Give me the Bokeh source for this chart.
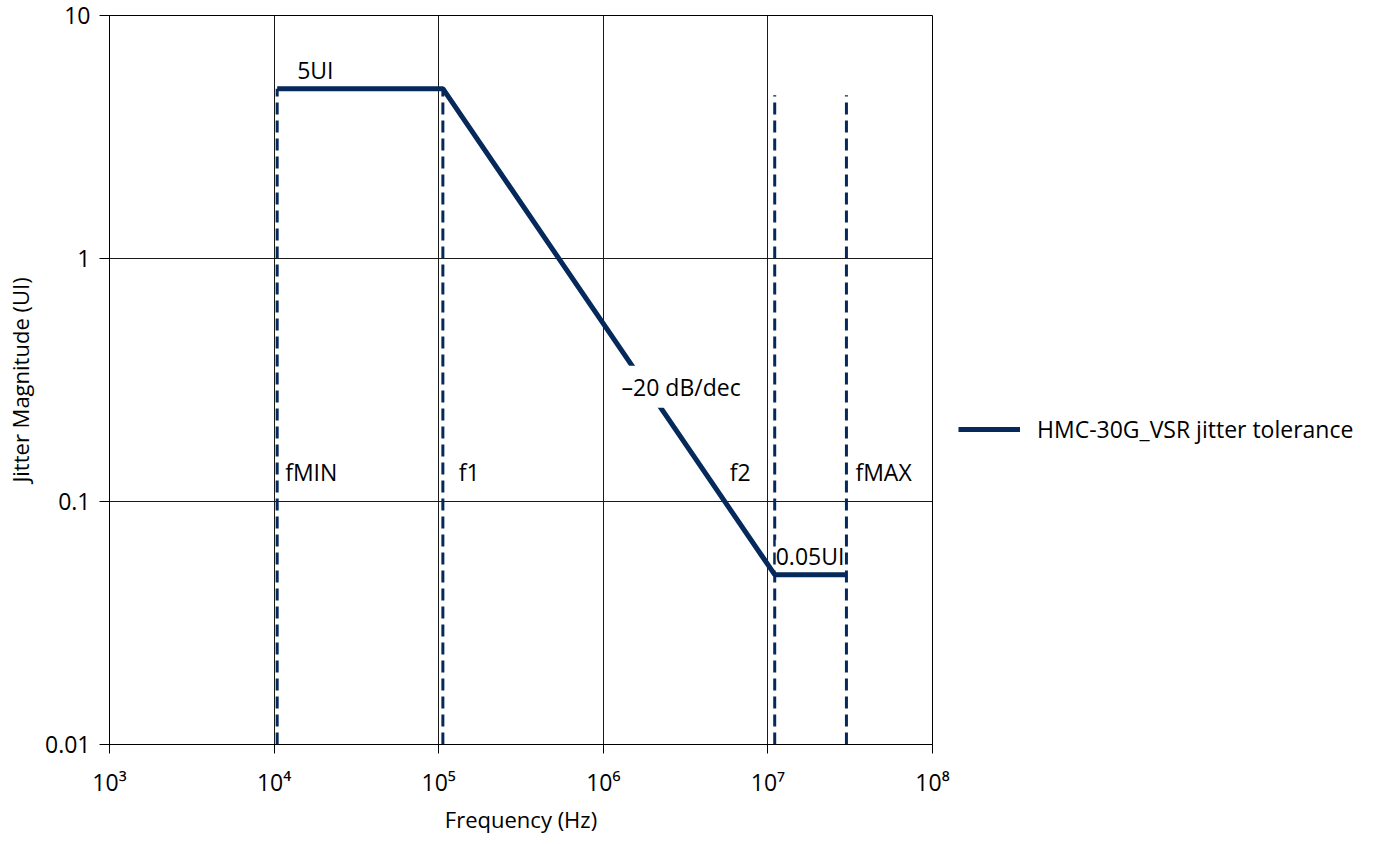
from bokeh.plotting import figure
from bokeh.layouts import row
from bokeh.models import (Label, Legend, LegendItem, FixedTicker,
                          CustomJSTickFormatter, Range1d)
from bokeh.embed import file_html
from bokeh.resources import INLINE

# ---------------- data ----------------
freq = [1.044e4, 1.06e5, 1.1e7, 3.0e7]
jitter = [5.0, 5.0, 0.05, 0.05]
marker_freq = [1.044e4, 1.06e5, 1.1e7, 3.0e7]
marker_top = [5.0, 5.0, 4.7, 4.7]
marker_names = ["fMIN", "f1", "f2", "fMAX"]
x_ticks = [1e3, 1e4, 1e5, 1e6, 1e7, 1e8]
x_tick_exp = ["3", "4", "5", "6", "7", "8"]
y_ticks = [0.01, 0.1, 1, 10]
y_tick_labels = ["0.01", "0.1", "1", "10"]
series_name = "HMC-30G_VSR jitter tolerance"
level_labels = ["5UI", "0.05UI"]
slope_label = "\u201320 dB/dec"
slope_label_pos = (2.97e6, 0.28)

NAVY = "#05295a"
FONT = "Open Sans"
FS = "23px"
H = 836
SUP = {"0": "\u2070", "1": "\u00b9", "2": "\u00b2", "3": "\u00b3", "4": "\u2074",
       "5": "\u2075", "6": "\u2076", "7": "\u2077", "8": "\u2078", "9": "\u2079"}

p = figure(width=952, height=H, x_axis_type="log", y_axis_type="log",
           x_range=Range1d(x_ticks[0], x_ticks[-1]),
           y_range=Range1d(y_ticks[0], y_ticks[-1]),
           output_backend="svg", toolbar_location=None,
           min_border_left=109, min_border_right=20,
           min_border_top=15, min_border_bottom=91)
p.outline_line_color = "black"
p.background_fill_color = "white"

for ax in (p.xaxis[0], p.yaxis[0]):
    ax.axis_line_color = "black"
    ax.major_tick_line_color = "black"
    ax.major_tick_in = 0
    ax.minor_tick_line_color = None
    ax.major_label_text_font = FONT
    ax.major_label_text_font_size = FS
    ax.major_label_text_color = "black"
    ax.axis_label_text_font = FONT
    ax.axis_label_text_font_size = "22px"
    ax.axis_label_text_font_style = "normal"
    ax.axis_label_text_color = "black"

p.xaxis.ticker = FixedTicker(ticks=x_ticks)
p.yaxis.ticker = FixedTicker(ticks=y_ticks)
p.xaxis.major_tick_out = 9
p.yaxis.major_tick_out = 10
p.xaxis.major_label_standoff = 12
p.yaxis.major_label_standoff = 9
p.xaxis.formatter = CustomJSTickFormatter(
    args=dict(t=x_ticks, e=["".join(SUP[c] for c in s) for s in x_tick_exp]),
    code="const i = t.findIndex(v => Math.abs(Math.log10(v) - Math.log10(tick)) < 1e-6); return i >= 0 ? '10' + e[i] : '';")
p.yaxis.formatter = CustomJSTickFormatter(
    args=dict(t=y_ticks, l=y_tick_labels),
    code="const i = t.findIndex(v => Math.abs(Math.log10(v) - Math.log10(tick)) < 1e-6); return i >= 0 ? l[i] : '';")
p.xaxis.axis_label = "Frequency (Hz)"
p.yaxis.axis_label = "Jitter Magnitude (UI)"
p.xaxis.axis_label_standoff = 3
p.yaxis.axis_label_standoff = 7

p.grid.grid_line_color = "#1a1a1a"
p.grid.grid_line_width = 1

# dashed frequency markers
p.segment(x0=marker_freq, y0=[y_ticks[0]] * len(marker_freq),
          x1=marker_freq, y1=marker_top,
          line_color=NAVY, line_width=3, line_dash="12 6")

# main mask line
r = p.line(freq, jitter, line_color=NAVY, line_width=5)

# marker names
name_offsets = [(8, "left"), (16, "left"), (-24, "right"), (9, "left")]
for f, n, (dx, al) in zip(marker_freq, marker_names, name_offsets):
    p.add_layout(Label(x=f, y=0.1, x_offset=dx, y_offset=30, text=n,
                       text_align=al, text_baseline="alphabetic",
                       text_font=FONT, text_font_size=FS, text_color="black"))

# level labels
p.add_layout(Label(x=freq[0], y=jitter[0], x_offset=20, y_offset=19, text=level_labels[0],
                   text_align="left", text_baseline="alphabetic",
                   text_font=FONT, text_font_size=FS, text_color="black"))
p.add_layout(Label(x=freq[2], y=jitter[2], x_offset=1, y_offset=19, text=level_labels[1],
                   text_align="left", text_baseline="alphabetic",
                   text_font=FONT, text_font_size=FS, text_color="black",
                   background_fill_color="white", padding=0))
p.add_layout(Label(x=slope_label_pos[0], y=slope_label_pos[1], y_offset=6, text=slope_label,
                   text_align="center", text_baseline="alphabetic",
                   text_font=FONT, text_font_size=FS, text_color="black",
                   background_fill_color="white", padding=5))

# legend panel (separate figure to the right of the plot; frames are aligned)
p2 = figure(width=1378 - 952, height=H, x_range=Range1d(0, 1), y_range=Range1d(0, 1),
            output_backend="svg", toolbar_location=None,
            x_axis_location=None, y_axis_location=None,
            min_border_left=0, min_border_right=0, min_border_top=0, min_border_bottom=0)
p2.outline_line_color = None
p2.grid.visible = False
proxy = p2.line(x=[float("nan")], y=[float("nan")], line_color=NAVY, line_width=5)
legend = Legend(items=[LegendItem(label=series_name, renderers=[proxy], index=0)],
                location=(6, 299), border_line_alpha=0, background_fill_alpha=0,
                padding=0, margin=0, glyph_width=62, glyph_height=20,
                label_standoff=17, label_text_font=FONT,
                label_text_font_size=FS, label_text_color="black")
p2.add_layout(legend)

layout = row(p, p2, spacing=0)
open("out.html", "w").write(file_html(layout, INLINE))
